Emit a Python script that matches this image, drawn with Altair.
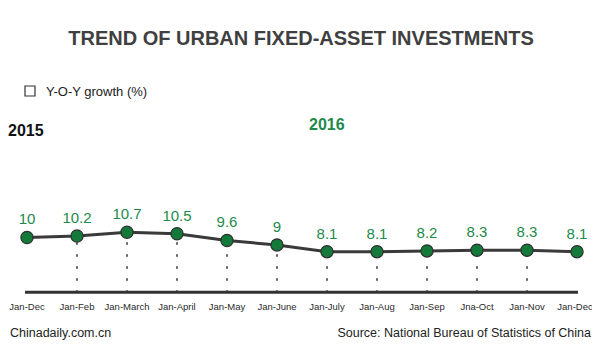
import altair as alt
import pandas as pd

months = ["Jan-Dec", "Jan-Feb", "Jan-March", "Jan-April", "Jan-May", "Jan-June",
          "Jan-July", "Jan-Aug", "Jan-Sep", "Jna-Oct", "Jan-Nov", "Jan-Dec"]
growth = [10, 10.2, 10.7, 10.5, 9.6, 9, 8.1, 8.1, 8.2, 8.3, 8.3, 8.1]
labels = ["10", "10.2", "10.7", "10.5", "9.6", "9", "8.1", "8.1", "8.2", "8.3", "8.3", "8.1"]
dotted = [False, True, True, True, True, True, True, True, True, True, True, False]

BASE = 2.66
W, H = 584, 342
FONT = "Liberation Sans"
GREEN_TXT = "#1d8a4b"
GREEN_PT = "#147a3a"
DARK = "#3a3a3a"

df = pd.DataFrame({"i": list(range(len(months))), "month": months,
                   "v": growth, "lab": labels, "dot": dotted, "base": BASE})

xs = alt.Scale(domain=[-0.38, 11.3])
ys = alt.Scale(domain=[-5.08, 40.76])
X = alt.X("i:Q", scale=xs, axis=None)
Y = alt.Y("v:Q", scale=ys, axis=None)

base = alt.Chart(df)

axis_line = alt.Chart(pd.DataFrame({"a": [-0.04], "b": [11.02], "y": [BASE]})).mark_rule(
    color="#333333", strokeWidth=3).encode(
    x=alt.X("a:Q", scale=xs, axis=None), x2="b:Q", y=alt.Y("y:Q", scale=ys, axis=None))

dots = base.transform_filter("datum.dot").mark_rule(
    color="#333333", strokeWidth=1.5, strokeDash=[1.5, 10.5], strokeCap="round").encode(
    x=X, y=alt.Y("base:Q", scale=ys, axis=None), y2="v:Q")

line = base.mark_line(color=DARK, strokeWidth=3).encode(x=X, y=Y)
pts = base.mark_point(filled=True, shape="circle", size=150, fill=GREEN_PT,
                      stroke="#2f2f2f", strokeWidth=1.2, opacity=1).encode(x=X, y=Y)
vals = base.mark_text(font=FONT, fontSize=15, color=GREEN_TXT, dy=-13,
                      baseline="alphabetic").encode(x=X, y=Y, text="lab:N")
xlabs = base.transform_filter("datum.i < 11").mark_text(
    font=FONT, fontSize=9.5, color="#2a2a2a", baseline="middle").encode(
    x=X, y=alt.value(298.5), text="month:N")
xlab_last = base.transform_filter("datum.i == 11").mark_text(
    font=FONT, fontSize=9.5, color="#2a2a2a", baseline="middle", dx=-2).encode(
    x=X, y=alt.value(298.5), text="month:N")

def txt(s, x, y, size, color="#222222", weight="normal", align="left"):
    return alt.Chart(pd.DataFrame({"t": [s]})).mark_text(
        font=FONT, fontSize=size, color=color, fontWeight=weight, align=align,
        baseline="alphabetic").encode(x=alt.value(x), y=alt.value(y), text="t:N")

title = txt("TREND OF URBAN FIXED-ASSET INVESTMENTS", 293, 37, 20, "#404040", "bold", "center")
legend_box = alt.Chart(pd.DataFrame({"t": [0]})).mark_rect(
    fill="white", stroke="#333333", strokeWidth=1.2).encode(
    x=alt.value(17), x2=alt.value(27), y=alt.value(78), y2=alt.value(88))
legend_txt = txt("Y-O-Y growth (%)", 38, 88, 13)
y2015 = txt("2015", 0, 128, 16, "#111111", "bold")
y2016 = txt("2016", 301, 122, 16, GREEN_TXT, "bold")
foot1 = txt("Chinadaily.com.cn", 2, 329, 12.5)
foot2 = txt("Source: National Bureau of Statistics of China", 583, 329, 12.5, align="right")

chart = alt.layer(axis_line, dots, line, pts, vals, xlabs, xlab_last, title, legend_box,
                  legend_txt, y2015, y2016, foot1, foot2).properties(
    width=W, height=H, autosize=alt.AutoSizeParams(type="none"),
    padding={"left": 0, "right": 0, "top": 0, "bottom": 0},
    background="white").configure_view(stroke=None)

chart.save("out.html", embed_options={"renderer": "svg", "actions": False})
